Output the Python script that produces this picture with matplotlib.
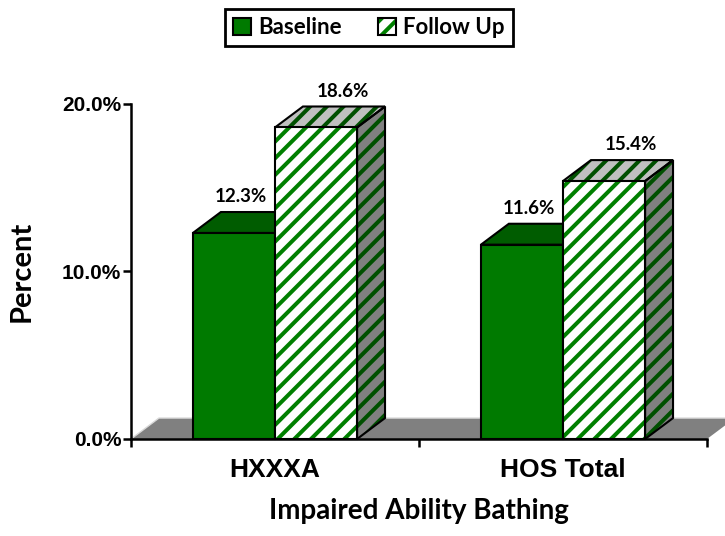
import matplotlib.pyplot as plt
from matplotlib.patches import Polygon, Patch
from matplotlib.legend_handler import HandlerTuple

# data
categories = ['HXXXA', 'HOS Total']
series_names = ['Baseline', 'Follow Up']
baseline = [12.3, 11.6]
follow_up = [18.6, 15.4]
y_ticks = [0, 10, 20]
y_tick_labels = ['0.0%', '10.0%', '20.0%']

plt.rcParams['hatch.linewidth'] = 2.9

GREEN = '#007A00'
GREEN_TOP = '#005C00'
GREEN_SIDE = '#004800'
STRIPE = '#008000'
STRIPE_DARK = '#005000'
EDGE_LW = 1.5

W = 0.285   # bar width (category units)
DX = 0.097  # depth offset along x
DY = 1.25   # depth offset along y (percent)

LABEL_FONT = 'Lato'
AXIS_FONT = 'Liberation Sans'


def hatched_poly(ax, pts, face, stripe, z):
    ax.add_patch(Polygon(pts, closed=True, facecolor=face, edgecolor=stripe,
                         hatch='//', lw=0, zorder=z, clip_on=False))
    ax.add_patch(Polygon(pts, closed=True, fill=False, edgecolor='black',
                         lw=EDGE_LW, zorder=z + 0.01, clip_on=False))


def solid_poly(ax, pts, face, z):
    ax.add_patch(Polygon(pts, closed=True, facecolor=face, edgecolor='black',
                         lw=EDGE_LW, zorder=z, clip_on=False))


def box(ax, x0, h, z, hatched=False):
    top = [(x0, h), (x0 + W, h), (x0 + W + DX, h + DY), (x0 + DX, h + DY)]
    side = [(x0 + W, 0), (x0 + W + DX, DY), (x0 + W + DX, h + DY), (x0 + W, h)]
    if hatched:
        hatched_poly(ax, side, '#808080', STRIPE_DARK, z)
        hatched_poly(ax, top, '#C0C0C0', STRIPE_DARK, z)
        ax.bar(x0, h, W, align='edge', color='white', edgecolor=STRIPE,
               hatch='//', lw=0, zorder=z + 0.02, clip_on=False)
        ax.bar(x0, h, W, align='edge', fill=False, edgecolor='black',
               lw=EDGE_LW, zorder=z + 0.03, clip_on=False)
    else:
        solid_poly(ax, side, GREEN_SIDE, z)
        solid_poly(ax, top, GREEN_TOP, z)
        ax.bar(x0, h, W, align='edge', color=GREEN, edgecolor='black',
               lw=EDGE_LW, zorder=z + 0.02, clip_on=False)


fig = plt.figure(figsize=(7.25, 5.36), dpi=100)
ax = fig.add_axes([0.1807, 0.181, 0.7945, 0.625])
ax.set_xlim(-0.5, len(categories) - 0.5)
ax.set_ylim(0, 20)

# floor
x_lo, x_hi = ax.get_xlim()
floor = [(x_lo, 0), (x_hi, 0), (x_hi + DX, DY), (x_lo + DX, DY)]
ax.add_patch(Polygon(floor, closed=True, facecolor='#808080', edgecolor='none',
                     zorder=1, clip_on=False))
ax.plot([x_lo, x_lo + DX, x_hi + DX], [0, DY, DY], color='#D9D9D9', lw=1,
        zorder=1.1, clip_on=False)

for i, cat in enumerate(categories):
    x_base = i - W
    x_fol = i
    box(ax, x_base, baseline[i], z=2 + i * 2)
    box(ax, x_fol, follow_up[i], z=3 + i * 2, hatched=True)
    for x0, v, shift in [(x_base, baseline[i], 0.25), (x_fol, follow_up[i], 0.95)]:
        ax.annotate(f'{v:.1f}%', xy=(x0 + W / 2 + DX * shift, v + DY),
                    xytext=(0, 5), textcoords='offset points',
                    ha='center', va='bottom', fontsize=13.5,
                    fontweight='bold', family=LABEL_FONT, zorder=10)

# axes styling
for s in ['top', 'right']:
    ax.spines[s].set_visible(False)
for s in ['left', 'bottom']:
    ax.spines[s].set_linewidth(1.8)
    ax.spines[s].set_zorder(9)

ax.set_yticks(y_ticks)
ax.set_yticklabels(y_tick_labels, fontsize=15, fontweight='bold', family=AXIS_FONT)
ax.tick_params(axis='y', length=6, width=1.8, direction='out', pad=1)

ax.set_xticks(range(len(categories)))
ax.set_xticklabels(categories, fontsize=19, fontweight='bold', family=AXIS_FONT)
ax.set_xticks([x_lo, 0.5, x_hi], minor=True)
ax.tick_params(axis='x', which='major', length=0, pad=14)
ax.tick_params(axis='x', which='minor', length=6, width=1.8, direction='out')

ax.set_xlabel('Impaired Ability Bathing', fontsize=20, fontweight='bold',
              family=LABEL_FONT, labelpad=11)
ax.set_ylabel('Percent', fontsize=21, fontweight='bold', family=LABEL_FONT,
              labelpad=20)

# legend
h_base = Patch(facecolor=GREEN, edgecolor='black', lw=EDGE_LW)
h_fol = (Patch(facecolor='white', edgecolor=STRIPE, hatch='//', lw=0),
         Patch(fill=False, edgecolor='black', lw=EDGE_LW))
leg = fig.legend([h_base, h_fol], series_names, loc='upper center',
                 bbox_to_anchor=(0.509, 0.983), ncol=2, fancybox=False,
                 edgecolor='black', framealpha=1, handlelength=0.8,
                 handleheight=0.8, handletextpad=0.35, columnspacing=1.6,
                 borderpad=0.35, borderaxespad=0,
                 handler_map={tuple: HandlerTuple(ndivide=1, pad=0)},
                 prop={'family': LABEL_FONT, 'weight': 'bold', 'size': 16})
leg.get_frame().set_linewidth(2)

fig.savefig('out.png', dpi=100)
